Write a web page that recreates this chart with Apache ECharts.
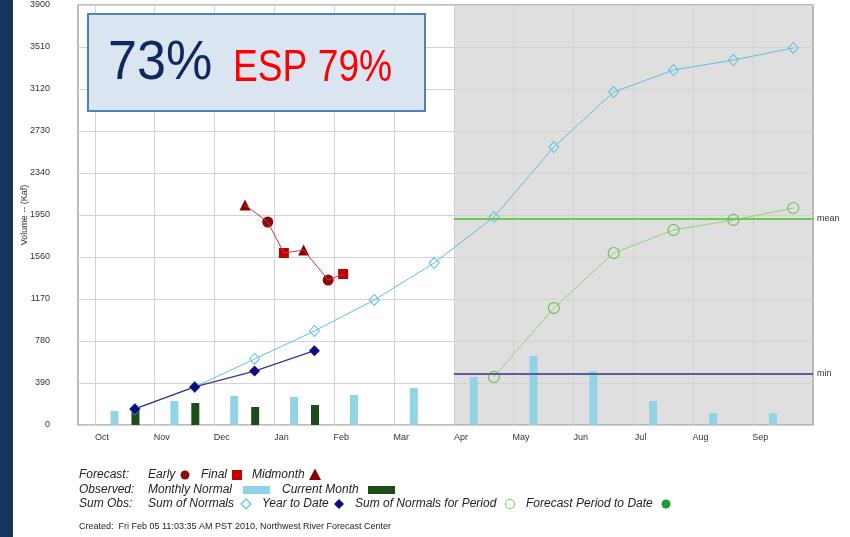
<!DOCTYPE html>
<html><head><meta charset="utf-8">
<script src="https://cdn.jsdelivr.net/npm/echarts@6/dist/echarts.min.js"></script>
<style>html,body{margin:0;padding:0;background:#fff}#c{width:850px;height:537px}</style>
</head><body><div id="c"></div>
<script>
// ---- data ----
const months = ['Oct','Nov','Dec','Jan','Feb','Mar','Apr','May','Jun','Jul','Aug','Sep'];
const yMax = 3900, yStep = 390;
const monthlyNormal = [130, 223, 269, 260, 279, 344, 446, 641, 501, 223, 111, 111];
const currentMonth = [150, 204, 167, 186];
const sumOfNormals = [149, 353, 613, 873, 1161, 1504, 1931, 2581, 3092, 3296, 3389, 3501];
const yearToDate = [149, 353, 501, 690];
const periodStartMonth = 6; // Apr
const sumNormalsForPeriod = [446, 1086, 1597, 1811, 1904, 2015];
// forecasts: [month position (months since Oct 1), volume]
const forecastEarly = [[2.89, 1885], [3.90, 1346]];
const forecastFinal = [[3.16, 1597], [4.15, 1402]];
const forecastMid = [[2.51, 2043], [3.49, 1625]];
const meanValue = 1913;
const minValue = 474;

// ---- layout helpers ----
const NORMAL_OFF = 0.33, CUR_OFF = 0.68, PT_OFF = 0.67, LABEL_OFF = 0.12;
const font = '"Liberation Sans", Arial, sans-serif';

const chart = echarts.init(document.getElementById('c'), null, {renderer: 'canvas'});

const forecastAll = forecastEarly.concat(forecastFinal, forecastMid).slice().sort((a, b) => a[0] - b[0]);

function txt(x, y, text, extra) {
  return Object.assign({type: 'text', x: x, y: y, z: 100,
    style: {text: text, fill: '#222', font: 'italic 12px ' + font, verticalAlign: 'middle'}}, extra || {});
}

const graphics = [
  {type: 'rect', z: 100, shape: {x: 0, y: 0, width: 13, height: 537}, style: {fill: '#17365d'}},
  {type: 'rect', z: 100, shape: {x: 88, y: 14, width: 337, height: 97}, style: {fill: '#dbe5f1', stroke: '#4f81bd', lineWidth: 2}},
  {type: 'text', z: 101, x: 108, y: 64, scaleX: 0.93, style: {text: '73%', fill: '#0e2a5c', font: '56px ' + font, verticalAlign: 'middle'}},
  {type: 'text', z: 101, x: 233, y: 69, scaleX: 0.845, style: {text: 'ESP 79%', fill: '#ff0000', font: '44px ' + font, verticalAlign: 'middle'}},
  // legend row 1
  txt(79, 475, 'Forecast:'), txt(148, 475, 'Early'),
  {type: 'circle', z: 100, shape: {cx: 185, cy: 475, r: 4.5}, style: {fill: '#8b0a0a'}},
  txt(201, 475, 'Final'),
  {type: 'rect', z: 100, shape: {x: 232, y: 470, width: 10, height: 10}, style: {fill: '#c00000'}},
  txt(252, 475, 'Midmonth'),
  {type: 'polygon', z: 100, shape: {points: [[315, 468.5], [321, 480], [309, 480]]}, style: {fill: '#8b0000'}},
  // legend row 2
  txt(79, 490, 'Observed:'), txt(148, 490, 'Monthly Normal'),
  {type: 'rect', z: 100, shape: {x: 243, y: 486, width: 27, height: 8}, style: {fill: '#92d3e6'}},
  txt(282, 490, 'Current Month'),
  {type: 'rect', z: 100, shape: {x: 368, y: 486, width: 27, height: 8}, style: {fill: '#1a4d1a'}},
  // legend row 3
  txt(79, 504, 'Sum Obs:'), txt(148, 504, 'Sum of Normals'),
  {type: 'polygon', z: 100, shape: {points: [[246, 499], [251, 504], [246, 509], [241, 504]]}, style: {fill: '#fff', stroke: '#5ac3e1', lineWidth: 1.2}},
  txt(262, 504, 'Year to Date'),
  {type: 'polygon', z: 100, shape: {points: [[339, 499], [344, 504], [339, 509], [334, 504]]}, style: {fill: '#0b0b84'}},
  txt(355, 504, 'Sum of Normals for Period'),
  {type: 'circle', z: 100, shape: {cx: 510, cy: 504, r: 4.5}, style: {fill: '#fff', stroke: '#7ccf63', lineWidth: 1.2}},
  txt(526, 504, 'Forecast Period to Date'),
  {type: 'circle', z: 100, shape: {cx: 666, cy: 504, r: 4.5}, style: {fill: '#1e9c2e'}},
  {type: 'text', z: 100, x: 79, y: 527, style: {text: 'Created:  Fri Feb 05 11:03:35 AM PST 2010, Northwest River Forecast Center', fill: '#222', font: '9px ' + font, verticalAlign: 'middle'}}
];

const option = {
  animation: false,
  backgroundColor: '#fff',
  grid: {left: 78, right: 37, top: 5, bottom: 112, show: true, borderColor: '#a8a8a8', borderWidth: 1.5, backgroundColor: 'transparent'},
  xAxis: {
    type: 'value', min: -0.28, max: 12,
    axisLine: {show: false},
    axisTick: {show: false, customValues: months.map((m, i) => i)},
    splitLine: {show: true, lineStyle: {color: '#d3d3d3', width: 1}},
    axisLabel: {customValues: months.map((m, i) => i + LABEL_OFF), formatter: v => months[Math.round(v - LABEL_OFF)],
      fontSize: 9, color: '#333', margin: 8, fontFamily: font}
  },
  yAxis: {
    type: 'value', min: 0, max: yMax, interval: yStep,
    name: 'Volume -- (Kaf)', nameLocation: 'middle', nameRotate: 90, nameGap: 49, nameMoveOverlap: false,
    nameTextStyle: {fontSize: 9, color: '#333', fontFamily: font},
    axisLine: {show: false}, axisTick: {show: false},
    splitLine: {show: true, lineStyle: {color: '#d3d3d3', width: 1}},
    axisLabel: {fontSize: 9, color: '#333', margin: 28, fontFamily: font, formatter: v => String(v)}
  },
  graphic: graphics,
  series: [
    {
      type: 'custom', z: -1, silent: true,
      data: [[periodStartMonth, 12]],
      renderItem: function (params, api) {
        const p0 = api.coord([api.value(0), yMax]);
        const p1 = api.coord([api.value(1), 0]);
        return {type: 'rect', shape: {x: p0[0], y: p0[1], width: p1[0] - p0[0], height: p1[1] - p0[1]}, style: {fill: '#dfdfdf'}};
      }
    },
    {
      name: 'Monthly Normal', type: 'bar', barWidth: 8, barGap: '-100%',
      itemStyle: {color: '#92d3e6'},
      data: monthlyNormal.map((v, i) => [i + NORMAL_OFF, v])
    },
    {
      name: 'Current Month', type: 'bar', barWidth: 8, barGap: '-100%',
      itemStyle: {color: '#1a4d1a'},
      data: currentMonth.map((v, i) => [i + CUR_OFF, v])
    },
    {
      name: 'Sum of Normals', type: 'line', symbol: 'diamond', symbolSize: [10, 11],
      lineStyle: {color: '#5ac3e1', width: 1},
      itemStyle: {color: 'rgba(0,0,0,0)', borderColor: '#5ac3e1', borderWidth: 1},
      data: sumOfNormals.map((v, i) => [i + PT_OFF, v])
    },
    {
      name: 'Year to Date', type: 'line', symbol: 'diamond', symbolSize: 11,
      lineStyle: {color: '#3a3590', width: 1.3},
      itemStyle: {color: '#0b0b84'},
      data: yearToDate.map((v, i) => [i + PT_OFF, v])
    },
    {
      name: 'Sum of Normals for Period', type: 'line', symbol: 'circle', symbolSize: 11,
      lineStyle: {color: '#8fd47a', width: 1},
      itemStyle: {color: 'rgba(0,0,0,0)', borderColor: '#6cc44e', borderWidth: 1.2},
      data: sumNormalsForPeriod.map((v, i) => [periodStartMonth + i + PT_OFF, v]),
      markLine: {
        silent: true, symbol: ['none', 'none'],
        label: {show: true, position: 'end', color: '#333', fontSize: 9, fontFamily: font, distance: 4},
        data: [
          [{coord: [periodStartMonth, meanValue], lineStyle: {color: '#6acb4f', width: 2, type: 'solid'}, label: {formatter: 'mean'}},
           {coord: [12, meanValue]}],
          [{coord: [periodStartMonth, minValue], lineStyle: {color: '#5b5b9e', width: 2, type: 'solid'}, label: {formatter: 'min'}},
           {coord: [12, minValue]}]
        ]
      }
    },
    {
      name: 'Forecast line', type: 'line', symbol: 'none',
      lineStyle: {color: '#c43a3a', width: 1},
      data: forecastAll
    },
    {name: 'Early', type: 'scatter', symbol: 'circle', symbolSize: 11, itemStyle: {color: '#8b0a0a', opacity: 1}, data: forecastEarly},
    {name: 'Final', type: 'scatter', symbol: 'rect', symbolSize: 10, itemStyle: {color: '#c00000', opacity: 1}, data: forecastFinal},
    {name: 'Midmonth', type: 'scatter', symbol: 'triangle', symbolSize: [11, 11], itemStyle: {color: '#8b0000', opacity: 1}, data: forecastMid}
  ]
};
chart.setOption(option);
</script>
</body></html>
